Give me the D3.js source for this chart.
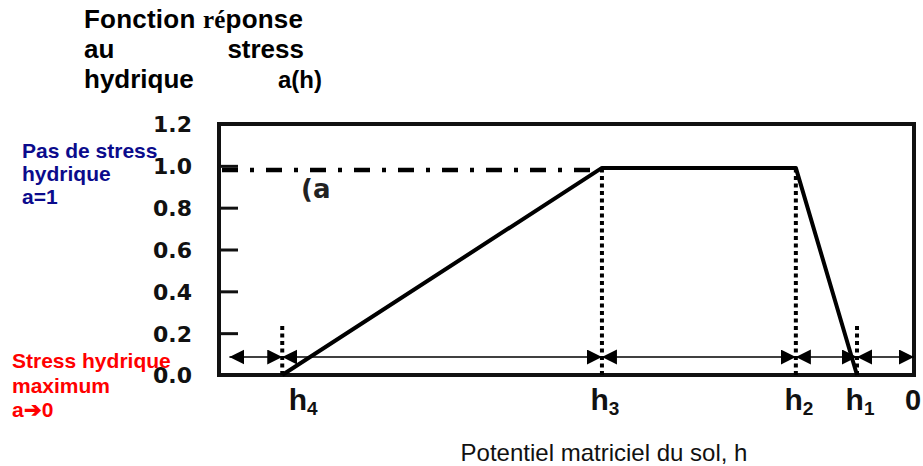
<!DOCTYPE html>
<html lang="fr">
<head>
<meta charset="utf-8">
<script src="https://d3js.org/d3.v7.min.js"></script>
<style>
  body { margin: 0; background: #fff; }
  svg { display: block; }
</style>
</head>
<body>
<div id="chart"></div>
<script>
// valeurs
const yTicks = [0.0, 0.2, 0.4, 0.6, 0.8, 1.0, 1.2];
const hNoms = ["4", "3", "2", "1"];          // indices des h
const hPos = [-0.909, -0.449, -0.170, -0.082]; // h4, h3, h2, h1 (echelle relative, 0 a droite)
const courbeH = [-0.909, -0.449, -0.170, -0.082];
const courbeA = [0, 0.99, 0.99, 0];
const pointilleHaut = [0.25, 0.99, 0.99, 0.25];
const niveauSansStress = 0.98;
const flechesBornes = [-0.985, -0.909, -0.449, -0.170, -0.082, 0];
const hauteurFleches = 0.086;

const largeur = 923, hauteur = 466;
const svg = d3.select("#chart").append("svg")
  .attr("width", largeur).attr("height", hauteur);

const x = d3.scaleLinear().domain([-1, 0]).range([219, 914]);
const y = d3.scaleLinear().domain([0, 1.2]).range([375, 124]);

// marqueur de fleche
svg.append("defs").append("marker")
  .attr("id", "tete")
  .attr("markerUnits", "userSpaceOnUse")
  .attr("markerWidth", 16).attr("markerHeight", 16)
  .attr("refX", 15).attr("refY", 7.5)
  .attr("orient", "auto-start-reverse")
  .append("path").attr("d", "M0,0 L15,7.5 L0,15 Z").attr("fill", "#000");

// ligne pas de stress (tiret-point)
svg.append("line")
  .attr("x1", x(-1) + 3).attr("x2", x(hPos[1]))
  .attr("y1", y(niveauSansStress)).attr("y2", y(niveauSansStress))
  .attr("stroke", "#000").attr("stroke-width", 4.5)
  .attr("stroke-dasharray", "16,12,4,12");

// axe y, graduations vers l'interieur
const axeY = svg.append("g")
  .attr("transform", "translate(" + x(-1) + ",0)")
  .call(d3.axisLeft(y).tickValues(yTicks).tickFormat(d3.format(".1f"))
    .tickSizeInner(-19).tickSizeOuter(0).tickPadding(27));
axeY.select(".domain").remove();
axeY.selectAll(".tick line").attr("stroke", "#111").attr("stroke-width", 3);
axeY.selectAll(".tick text")
  .attr("font-family", "DejaVu Sans").attr("font-weight", "bold")
  .attr("font-size", 22).attr("fill", "#111").attr("dy", "0.36em");

// cadre
svg.append("rect")
  .attr("x", x(-1)).attr("y", y(1.2))
  .attr("width", x(0) - x(-1)).attr("height", y(0) - y(1.2))
  .attr("fill", "none").attr("stroke", "#111").attr("stroke-width", 4);

// texte (a
svg.append("text")
  .attr("x", 301).attr("y", 198)
  .attr("font-family", "DejaVu Sans").attr("font-weight", "bold").attr("font-size", 26)
  .attr("fill", "#222").text("(a");

// verticales pointillees
svg.selectAll(".guide").data(hPos).enter().append("line")
  .attr("class", "guide")
  .attr("x1", d => x(d)).attr("x2", d => x(d))
  .attr("y1", y(0)).attr("y2", (d, i) => y(pointilleHaut[i]))
  .attr("stroke", "#000").attr("stroke-width", 4)
  .attr("stroke-dasharray", "4,3.5");

// fonction a(h)
const pts = courbeH.map((h, i) => [h, courbeA[i]]);
svg.append("path")
  .attr("d", d3.line().x(d => x(d[0])).y(d => y(d[1]))(pts))
  .attr("fill", "none").attr("stroke", "#000")
  .attr("stroke-width", 4).attr("stroke-linejoin", "round");

// fleches doubles
const segments = d3.pairs(flechesBornes);
svg.selectAll(".fleche").data(segments).enter().append("line")
  .attr("class", "fleche")
  .attr("x1", d => x(d[0])).attr("x2", d => x(d[1]))
  .attr("y1", y(hauteurFleches)).attr("y2", y(hauteurFleches))
  .attr("stroke", "#000").attr("stroke-width", 1.6)
  .attr("marker-start", "url(#tete)").attr("marker-end", "url(#tete)");

// etiquettes h
const etiq = svg.selectAll(".hlab").data(hPos).enter().append("text")
  .attr("class", "hlab")
  .attr("x", (d, i) => x(d) + (i === 0 ? 21 : 3)).attr("y", 410)
  .attr("text-anchor", "middle")
  .attr("font-family", "Liberation Sans").attr("font-weight", "bold")
  .attr("font-size", 30).attr("fill", "#111");
etiq.append("tspan").text("h");
etiq.append("tspan").attr("font-size", 19).attr("dy", 5).text((d, i) => hNoms[i]);
svg.append("text")
  .attr("x", x(0) - 1).attr("y", 410).attr("text-anchor", "middle")
  .attr("font-family", "Liberation Sans").attr("font-weight", "bold")
  .attr("font-size", 29).attr("fill", "#111").text("0");

// titre de l'axe x
svg.append("text")
  .attr("x", 604).attr("y", 461).attr("text-anchor", "middle")
  .attr("font-family", "Liberation Sans").attr("font-size", 24)
  .attr("fill", "#111").text("Potentiel matriciel du sol, h");

// titre en haut a gauche
const titre = svg.append("g")
  .attr("font-family", "Liberation Sans").attr("font-weight", "bold")
  .attr("font-size", 26).attr("fill", "#000");
const l1 = titre.append("text").attr("x", 84).attr("y", 28)
  .attr("textLength", 219).attr("lengthAdjust", "spacing");
l1.append("tspan").text("Fonction ");
l1.append("tspan").attr("font-family", "Liberation Serif").attr("font-size", 25).text("ré");
l1.append("tspan").text("ponse");
titre.append("text").attr("x", 84).attr("y", 58).text("au");
titre.append("text").attr("x", 304).attr("y", 58).attr("text-anchor", "end").text("stress");
titre.append("text").attr("x", 84).attr("y", 88).text("hydrique");
titre.append("text").attr("x", 278).attr("y", 88).attr("font-size", 24).text("a(h)");

// annotation bleue
const bleu = svg.append("text")
  .attr("font-family", "Liberation Sans").attr("font-weight", "bold")
  .attr("font-size", 21).attr("fill", "#0b0b8c");
["Pas de stress", "hydrique", "a=1"].forEach((t, i) => {
  bleu.append("tspan").attr("x", 22).attr("y", 158 + i * 23).text(t);
});

// annotation rouge
const rouge = svg.append("text")
  .attr("font-family", "Liberation Sans").attr("font-weight", "bold")
  .attr("font-size", 21).attr("fill", "#ff0000");
["Stress hydrique", "maximum", "a\u27940"].forEach((t, i) => {
  rouge.append("tspan").attr("x", 12).attr("y", 368 + i * 24.5).text(t);
});
</script>
</body>
</html>
